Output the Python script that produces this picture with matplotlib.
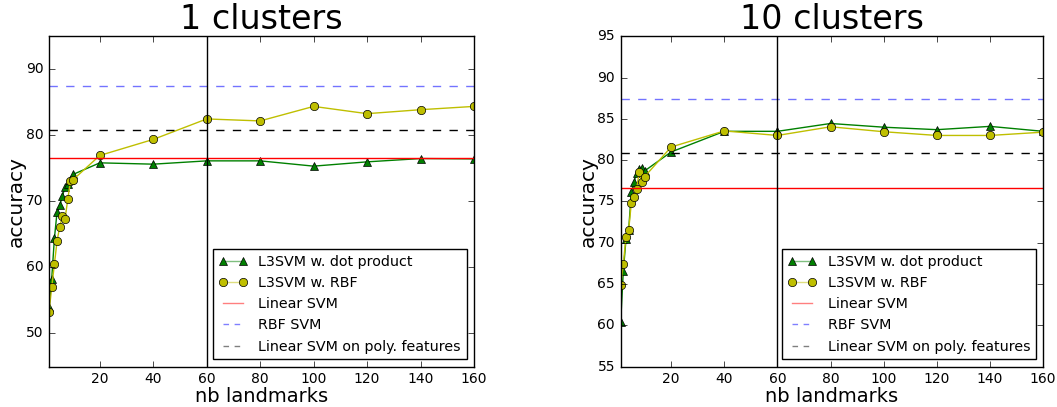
import matplotlib
matplotlib.use('Agg')
import matplotlib.pyplot as plt
from matplotlib.lines import Line2D

plt.style.use('classic')

# 1 cluster
landmarks_1 = [1, 2, 3, 4, 5, 6, 7, 8, 9, 10, 20, 40, 60, 80, 100, 120, 140, 160]
dot_1 = [54.0, 58.3, 64.4, 68.4, 69.4, 70.8, 72.2, 72.7, 73.2, 74.1,
         75.85, 75.65, 76.15, 76.15, 75.35, 76.0, 76.5, 76.45]
rbf_1 = [53.3, 57.0, 60.5, 64.0, 66.2, 67.8, 67.4, 70.3, 73.1, 73.3,
         76.97, 79.4, 82.5, 82.2, 84.4, 83.3, 83.9, 84.4]

# 10 clusters
landmarks_10 = [1, 2, 3, 4, 5, 6, 7, 8, 9, 10, 20, 40, 60, 80, 100, 120, 140, 160]
dot_10 = [60.4, 66.6, 70.4, 71.5, 76.1, 77.3, 78.5, 78.9, 79.1, 78.7,
          81.0, 83.5, 83.5, 84.45, 84.0, 83.7, 84.1, 83.5]
rbf_10 = [64.9, 67.4, 70.7, 71.5, 74.8, 75.6, 76.5, 78.6, 77.3, 78.0,
          81.6, 83.55, 83.0, 84.05, 83.45, 83.0, 83.0, 83.4]

# baselines
linear_svm = 76.6
rbf_svm = 87.45
poly_svm = 80.9

panels = [
    ("1 clusters", landmarks_1, dot_1, rbf_1, (45, 95), [50, 60, 70, 80, 90]),
    ("10 clusters", landmarks_10, dot_10, rbf_10, (55, 95), [55, 60, 65, 70, 75, 80, 85, 90, 95]),
]
positions = [[0.0464, 0.0995, 0.402, 0.811], [0.5872, 0.0995, 0.3997, 0.811]]

fig = plt.figure(figsize=(10.57, 4.07), dpi=100, facecolor='white')

for (title, x, dot, rbf, ylim, yticks), pos in zip(panels, positions):
    ax = fig.add_axes(pos)
    ax.plot(x, dot, 'g^-')
    ax.plot(x, rbf, 'yo-')
    ax.axhline(linear_svm, color='r')
    ax.axhline(rbf_svm, color='b', linestyle='--', alpha=0.55)
    ax.axhline(poly_svm, color='k', linestyle='--')
    ax.axvline(60, color='k')
    ax.set_xlim(1, 160)
    ax.set_ylim(*ylim)
    ax.set_xticks([20, 40, 60, 80, 100, 120, 140, 160])
    ax.set_yticks(yticks)
    ax.tick_params(labelsize=10)
    ax.set_title(title, fontsize=24)
    ax.set_xlabel('nb landmarks', fontsize=14, labelpad=1)
    ax.set_ylabel('accuracy', fontsize=14.5, labelpad=0)

    handles = [
        Line2D([], [], color=(0, 0.5, 0, 0.5), marker='^', markerfacecolor='g', markeredgecolor='k'),
        Line2D([], [], color=(0.75, 0.75, 0, 0.5), marker='o', markerfacecolor='y', markeredgecolor='k'),
        Line2D([], [], color='r', alpha=0.5),
        Line2D([], [], color='b', linestyle='--', dashes=(4, 4), alpha=0.5),
        Line2D([], [], color='k', linestyle='--', dashes=(4, 4), alpha=0.5),
    ]
    labels = ['L3SVM w. dot product', 'L3SVM w. RBF', 'Linear SVM', 'RBF SVM',
              'Linear SVM on poly. features']
    ax.legend(handles, labels, loc='lower right', fontsize=10.3, numpoints=2)

fig.savefig('out.png', dpi=100, facecolor='white')
